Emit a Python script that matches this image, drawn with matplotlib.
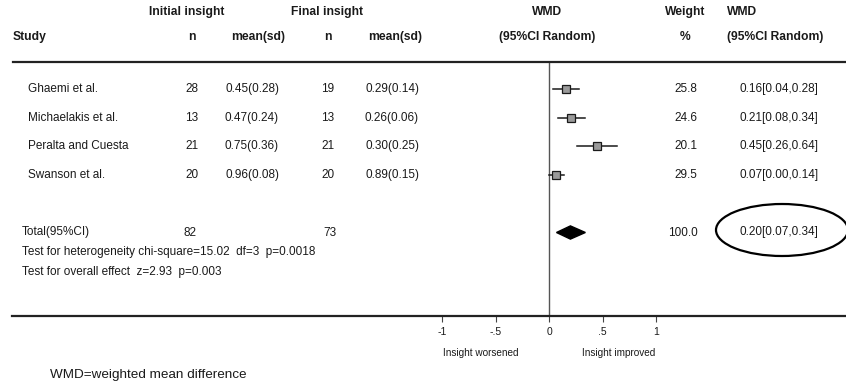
import matplotlib
matplotlib.use('Agg')
import matplotlib.pyplot as plt
from matplotlib.patches import Ellipse
from matplotlib.lines import Line2D

# study data
studies = ['Ghaemi et al.', 'Michaelakis et al.', 'Peralta and Cuesta', 'Swanson et al.']
n_initial = [28, 13, 21, 20]
mean_initial = ['0.45(0.28)', '0.47(0.24)', '0.75(0.36)', '0.96(0.08)']
n_final = [19, 13, 21, 20]
mean_final = ['0.29(0.14)', '0.26(0.06)', '0.30(0.25)', '0.89(0.15)']
wmd = [0.16, 0.21, 0.45, 0.07]
ci_low = [0.04, 0.08, 0.26, 0.00]
ci_high = [0.28, 0.34, 0.64, 0.14]
weights = [25.8, 24.6, 20.1, 29.5]

total_n_initial = 82
total_n_final = 73
total_wmd = 0.20
total_low = 0.07
total_high = 0.34
total_weight = 100.0

xticks = [-1, -0.5, 0, 0.5, 1]
xtick_labels = ['-1', '-.5', '0', '.5', '1']

W, H = 846, 385
FONT = ['Liberation Sans', 'DejaVu Sans']
INK = '#1a1a1a'

fig = plt.figure(figsize=(W / 100, H / 100), dpi=100)


def px(x, y):
    return x / W, 1 - y / H


def txt(x, y, s, ha='left', size=8.5, weight='normal'):
    fx, fy = px(x, y)
    fig.text(fx, fy, s, ha=ha, va='center', fontsize=size,
             fontweight=weight, family=FONT, color=INK)


# forest axes: 0 at x=549, 107 px per unit; rows 28.7 px apart starting y=89
x0, scale = 549, 107
xlim = (-1.1, 1.2)
top_px, bot_px = 62, 316
row0, row_h = 89, 28.7
ylim = ((bot_px - row0) / row_h, (top_px - row0) / row_h)
left_px = x0 + xlim[0] * scale
right_px = x0 + xlim[1] * scale
ax = fig.add_axes([left_px / W, 1 - bot_px / H, (right_px - left_px) / W, (bot_px - top_px) / H])
ax.set_xlim(xlim)
ax.set_ylim(ylim)
for s in ax.spines.values():
    s.set_visible(False)
ax.set_yticks([])
ax.set_xticks(xticks)
ax.set_xticklabels(xtick_labels, family=FONT, fontsize=7.5, color=INK)
ax.tick_params(axis='x', direction='out', length=4, width=0.8, pad=4, color='#444')
ax.patch.set_alpha(0)

ax.axvline(0, color='#555', lw=1)

rows = list(range(len(studies)))
for i in rows:
    ax.plot([ci_low[i], ci_high[i]], [i, i], color=INK, lw=1.1)
    ax.plot(wmd[i], i, marker='s', ms=6, mfc='#9a9a9a', mec=INK, mew=0.9)

total_row = 5
d = 0.23
ax.fill([total_low, total_wmd, total_high, total_wmd],
        [total_row, total_row - d, total_row, total_row + d], color='black')

ax.text(-0.64, ylim[0] + 1.3, 'Insight worsened', ha='center', va='center',
        family=FONT, fontsize=7.2, color=INK)
ax.text(0.65, ylim[0] + 1.3, 'Insight improved', ha='center', va='center',
        family=FONT, fontsize=7.2, color=INK)

# horizontal rules
fig.add_artist(Line2D([13 / W, 1], [1 - top_px / H] * 2, color='#222', lw=1.6))
fig.add_artist(Line2D([12 / W, 1], [1 - bot_px / H] * 2, color='#222', lw=1.6))

# header
hs = 8.7
txt(187, 12, 'Initial insight', ha='center', size=hs, weight='bold')
txt(327, 12, 'Final insight', ha='center', size=hs, weight='bold')
txt(547, 12, 'WMD', ha='center', size=hs, weight='bold')
txt(685, 12, 'Weight', ha='center', size=hs, weight='bold')
txt(727, 12, 'WMD', size=hs, weight='bold')
txt(13, 37, 'Study', size=hs, weight='bold')
txt(192, 37, 'n', ha='center', size=hs, weight='bold')
txt(258, 37, 'mean(sd)', ha='center', size=hs, weight='bold')
txt(328, 37, 'n', ha='center', size=hs, weight='bold')
txt(395, 37, 'mean(sd)', ha='center', size=hs, weight='bold')
txt(547, 37, '(95%CI Random)', ha='center', size=hs, weight='bold')
txt(685, 37, '%', ha='center', size=hs, weight='bold')
txt(727, 37, '(95%CI Random)', size=hs, weight='bold')

# study rows
for i in rows:
    y = row0 + i * row_h
    txt(28, y, studies[i])
    txt(192, y, str(n_initial[i]), ha='center')
    txt(252, y, mean_initial[i], ha='center')
    txt(328, y, str(n_final[i]), ha='center')
    txt(392, y, mean_final[i], ha='center')
    txt(686, y, f'{weights[i]:.1f}', ha='center')
    txt(779, y, f'{wmd[i]:.2f}[{ci_low[i]:.2f},{ci_high[i]:.2f}]', ha='center')

ty = row0 + total_row * row_h
txt(22, ty, 'Total(95%CI)')
txt(190, ty, str(total_n_initial), ha='center')
txt(330, ty, str(total_n_final), ha='center')
txt(683, ty, f'{total_weight:.1f}', ha='center')
txt(779, ty, f'{total_wmd:.2f}[{total_low:.2f},{total_high:.2f}]', ha='center')

txt(22, 252, 'Test for heterogeneity chi-square=15.02  df=3  p=0.0018')
txt(22, 272, 'Test for overall effect  z=2.93  p=0.003')

fig.add_artist(Ellipse(px(782, 230), 132 / W, 52 / H, transform=fig.transFigure,
                       fill=False, ec='black', lw=1.6))

txt(50, 375, 'WMD=weighted mean difference', size=9.7)

fig.savefig('out.png', dpi=100)
